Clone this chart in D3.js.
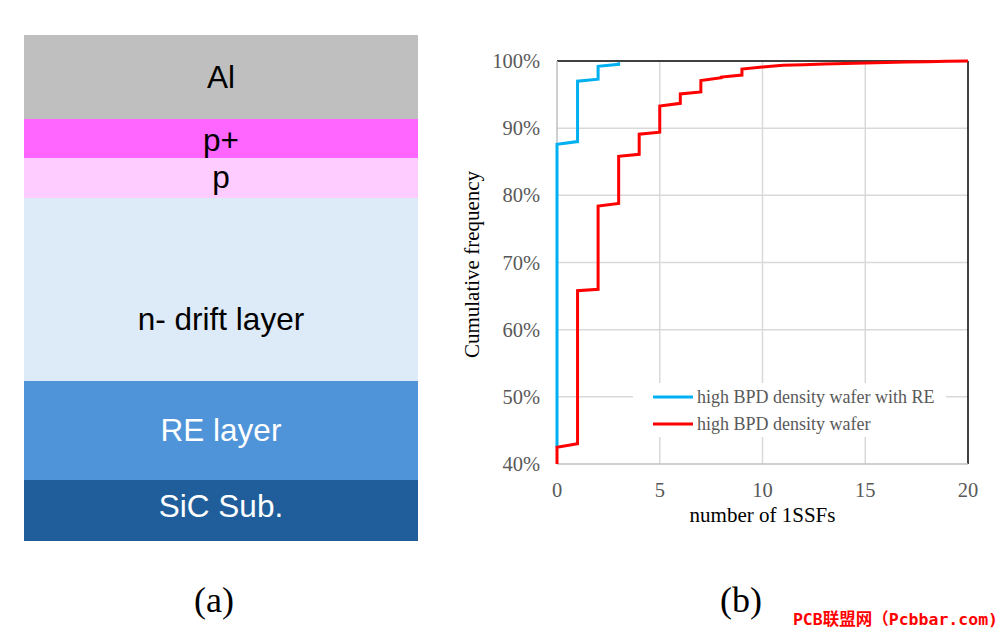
<!DOCTYPE html>
<html><head><meta charset="utf-8">
<script src="https://cdn.jsdelivr.net/npm/d3@7"></script>
<style>body{margin:0;background:#fff;}svg{display:block;}</style>
</head><body>
<svg id="c" width="1001" height="633"></svg>
<script>
// Layer stack (panel a)
const layerNames = ["Al", "p+", "p", "n- drift layer", "RE layer", "SiC Sub."];
const layerThick = [84, 39, 40, 183, 99, 61];
const layerColors = ["#bfbfbf", "#ff66ff", "#ffccff", "#ddeaf7", "#4f94d9", "#1f5e9a"];
const layerTextColors = ["#000", "#000", "#000", "#000", "#fff", "#fff"];

// Cumulative frequency (panel b)
const xTicks = [0, 5, 10, 15, 20];
const yTicks = [40, 50, 60, 70, 80, 90, 100];
const seriesNames = ["high BPD density wafer with RE", "high BPD density wafer"];
const blueX = [0, 0, 1, 1, 2, 2, 3, 3];
const blueY = [42.5, 87.6, 88.0, 97.0, 97.3, 99.2, 99.5, 99.8];
const redX = [0, 0, 1, 1, 2, 2, 3, 3, 4, 4, 5, 5, 6, 6, 7, 7, 8, 8, 9, 9, 10, 11, 12, 13, 14, 15, 16, 17, 18, 19, 20];
const redY = [40, 42.5, 43.0, 65.8, 66.0, 78.4, 78.8, 85.8, 86.1, 89.1, 89.4, 93.3, 93.7, 95.1, 95.4, 97.1, 97.5, 97.6, 97.9, 98.8, 99.1, 99.35, 99.45, 99.55, 99.62, 99.7, 99.77, 99.84, 99.9, 99.95, 100];

const svg = d3.select("#c");

// ---- Panel (a)
const ya = d3.scaleLinear().domain([0, d3.sum(layerThick)]).range([35, 541]);
let cum = 0;
const layers = layerNames.map((n, i) => { const o = {n, y0: cum, y1: cum + layerThick[i], c: layerColors[i], t: layerTextColors[i]}; cum += layerThick[i]; return o; });
const ga = svg.append("g");
ga.selectAll("rect").data(layers).join("rect")
  .attr("x", 24).attr("width", 394)
  .attr("y", d => ya(d.y0)).attr("height", d => ya(d.y1) - ya(d.y0))
  .attr("fill", d => d.c);
const textOff = [11, 12, 10, 40, 10, 6];
ga.selectAll("text").data(layers).join("text")
  .attr("x", 221).attr("y", (d, i) => (ya(d.y0) + ya(d.y1)) / 2 + textOff[i])
  .attr("text-anchor", "middle")
  .attr("font-family", "Liberation Sans, Arial, sans-serif")
  .attr("font-size", 31.5).attr("fill", d => d.t)
  .text(d => d.n);

// ---- Panel (b)
const x = d3.scaleLinear().domain([0, 20]).range([557, 968]);
const y = d3.scaleLinear().domain([40, 100]).range([464, 61]);
const gb = svg.append("g");
// gridlines
gb.selectAll("line.gy").data(yTicks.slice(1, -1)).join("line")
  .attr("x1", x(0)).attr("x2", x(20)).attr("y1", d => y(d)).attr("y2", d => y(d))
  .attr("stroke", "#d9d9d9").attr("stroke-width", 1.5);
gb.selectAll("line.gx").data(xTicks.slice(1, -1)).join("line")
  .attr("y1", y(40)).attr("y2", y(100)).attr("x1", d => x(d)).attr("x2", d => x(d))
  .attr("stroke", "#d9d9d9").attr("stroke-width", 1.5);
// borders
gb.append("line").attr("x1", x(0)).attr("x2", x(20)).attr("y1", y(100)).attr("y2", y(100)).attr("stroke", "#000").attr("stroke-width", 1.5);
gb.append("line").attr("x1", x(20)).attr("x2", x(20)).attr("y1", y(100)).attr("y2", y(40)).attr("stroke", "#000").attr("stroke-width", 1.5);
gb.append("line").attr("x1", x(0)).attr("x2", x(0)).attr("y1", y(100)).attr("y2", y(40)).attr("stroke", "#bfbfbf").attr("stroke-width", 1.5);
gb.append("line").attr("x1", x(0)).attr("x2", x(20)).attr("y1", y(40)).attr("y2", y(40)).attr("stroke", "#bfbfbf").attr("stroke-width", 1.5);

// clip
svg.append("clipPath").attr("id", "pc").append("rect")
  .attr("x", x(0) - 2).attr("y", y(100) - 2).attr("width", x(20) - x(0) + 4).attr("height", y(40) - y(100) + 2);
const line = d3.line().x(d => x(d[0])).y(d => y(d[1]));
const blue = blueX.map((v, i) => [v, blueY[i]]);
const red = redX.map((v, i) => [v, redY[i]]);
const gl = gb.append("g").attr("clip-path", "url(#pc)");
gl.append("path").datum(blue).attr("d", line).attr("fill", "none").attr("stroke", "#00b0f0").attr("stroke-width", 3).attr("stroke-linejoin", "miter");
gl.append("path").datum(red).attr("d", line).attr("fill", "none").attr("stroke", "#ff0000").attr("stroke-width", 3).attr("stroke-linejoin", "miter");

// legend
gb.append("rect").attr("x", 633).attr("y", 383).attr("width", 313).attr("height", 54).attr("fill", "#fff");
const legColors = ["#00b0f0", "#ff0000"];
const lg = gb.selectAll("g.leg").data(seriesNames).join("g")
  .attr("transform", (d, i) => `translate(653,${397 + i * 27})`);
lg.append("line").attr("x1", 0).attr("x2", 40).attr("stroke", (d, i) => legColors[i]).attr("stroke-width", 3);
lg.append("text").attr("x", 44).attr("y", 6)
  .attr("font-family", "Liberation Serif, Times New Roman, serif").attr("font-size", 18).attr("fill", "#595959")
  .text(d => d);

// ticks
const serif = "Liberation Serif, Times New Roman, serif";
gb.selectAll("text.yt").data(yTicks).join("text")
  .attr("x", 540).attr("y", d => y(d) + 7).attr("text-anchor", "end")
  .attr("font-family", serif).attr("font-size", 20.5).attr("fill", "#595959")
  .text(d => d + "%");
gb.selectAll("text.xt").data(xTicks).join("text")
  .attr("x", d => x(d)).attr("y", 497).attr("text-anchor", "middle")
  .attr("font-family", serif).attr("font-size", 20.5).attr("fill", "#595959")
  .text(d => d);
gb.append("text").attr("x", x(10)).attr("y", 522).attr("text-anchor", "middle")
  .attr("font-family", serif).attr("font-size", 21).attr("fill", "#000").text("number of 1SSFs");
gb.append("text").attr("transform", `translate(479,${(y(40) + y(100)) / 2 + 2}) rotate(-90)`).attr("text-anchor", "middle")
  .attr("font-family", serif).attr("font-size", 21).attr("fill", "#000").text("Cumulative frequency");

// panel labels
svg.append("text").attr("x", 214).attr("y", 612).attr("text-anchor", "middle")
  .attr("font-family", serif).attr("font-size", 36).text("(a)");
svg.append("text").attr("x", 741).attr("y", 612).attr("text-anchor", "middle")
  .attr("font-family", serif).attr("font-size", 36).text("(b)");

// watermark
svg.append("text").attr("x", 998).attr("y", 625).attr("text-anchor", "end")
  .attr("font-family", "DejaVu Sans Mono, Noto Sans CJK SC, monospace").attr("font-size", 16.5).attr("font-weight", "bold").attr("fill", "#ff0000")
  .text("PCB联盟网（Pcbbar.com)");
</script>
</body></html>
